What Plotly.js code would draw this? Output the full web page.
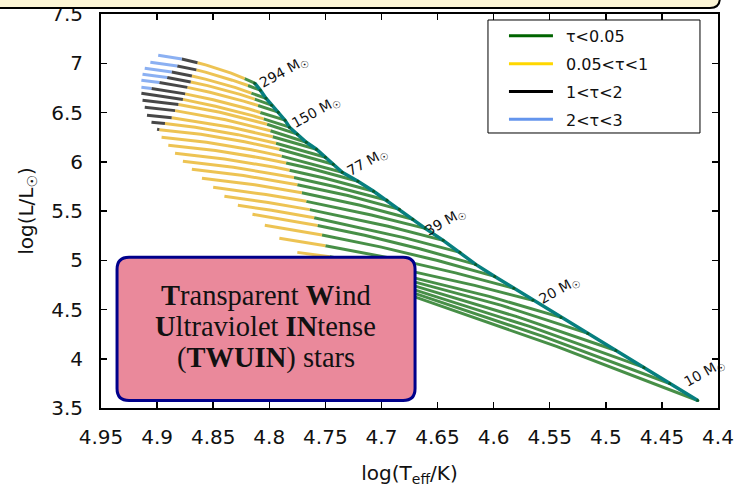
<!DOCTYPE html>
<html><head><meta charset="utf-8">
<script src="https://cdn.plot.ly/plotly-3.0.1.min.js"></script>
<style>html,body{margin:0;padding:0;background:#fff;}#chart{width:738px;height:490px;}</style>
</head><body><div id="chart"></div>
<script>
// x ticks
const xTickVals = [4.95,4.9,4.85,4.8,4.75,4.7,4.65,4.6,4.55,4.5,4.45,4.4];
const xTickText = ['4.95','4.9','4.85','4.8','4.75','4.7','4.65','4.6','4.55','4.5','4.45','4.4'];
const yTickVals = [3.5,4,4.5,5,5.5,6,6.5,7,7.5];
const yTickText = ['3.5','4','4.5','5','5.5','6','6.5','7','7.5'];

// evolutionary tracks, from the ZAMS (first point) to the end; lowest mass first
const trackLogT = [
 [4.418,4.544,4.669,4.719],
 [4.443,4.556,4.669,4.724],
 [4.466,4.568,4.669,4.728],
 [4.491,4.580,4.669,4.733],
 [4.516,4.593,4.669,4.739],
 [4.540,4.604,4.669,4.746],
 [4.565,4.617,4.669,4.746,4.775],
 [4.582,4.634,4.686,4.750,4.791],
 [4.599,4.650,4.701,4.753,4.804],
 [4.616,4.666,4.715,4.757,4.815],
 [4.630,4.680,4.760,4.798,4.828],
 [4.645,4.694,4.764,4.801,4.840],
 [4.661,4.709,4.767,4.803,4.850],
 [4.672,4.719,4.771,4.813,4.860],
 [4.684,4.730,4.775,4.823,4.869],
 [4.695,4.741,4.778,4.832,4.877],
 [4.707,4.751,4.782,4.795,4.840,4.884],
 [4.721,4.763,4.785,4.806,4.848,4.890],
 [4.735,4.775,4.789,4.816,4.856,4.896],
 [4.743,4.791,4.822,4.861,4.898,4.900],
 [4.750,4.794,4.828,4.866,4.893,4.905],
 [4.758,4.797,4.834,4.887,4.909],
 [4.767,4.799,4.839,4.884,4.911],
 [4.775,4.802,4.844,4.881,4.913],
 [4.782,4.805,4.815,4.848,4.877,4.914],
 [4.786,4.808,4.818,4.850,4.875,4.905,4.914],
 [4.792,4.810,4.823,4.853,4.873,4.898,4.914],
 [4.798,4.813,4.826,4.855,4.870,4.891,4.913],
 [4.803,4.816,4.830,4.857,4.869,4.887,4.911],
 [4.808,4.819,4.833,4.857,4.865,4.882,4.906],
 [4.813,4.822,4.834,4.856,4.864,4.878,4.899]
];
const trackLogL = [
 [3.576,4.125,4.623,4.725],
 [3.749,4.227,4.659,4.765],
 [3.912,4.328,4.694,4.816],
 [4.084,4.430,4.735,4.867],
 [4.257,4.542,4.775,4.918],
 [4.420,4.633,4.816,4.979],
 [4.593,4.745,4.877,5.036,5.080],
 [4.715,4.872,5.009,5.148,5.223],
 [4.836,4.997,5.136,5.257,5.355],
 [4.958,5.116,5.253,5.352,5.467],
 [5.080,5.230,5.431,5.507,5.558],
 [5.202,5.345,5.514,5.586,5.650],
 [5.324,5.459,5.598,5.667,5.741],
 [5.416,5.558,5.686,5.766,5.832],
 [5.517,5.657,5.767,5.860,5.924],
 [5.609,5.746,5.840,5.944,6.005],
 [5.700,5.835,5.913,5.944,6.028,6.087],
 [5.802,5.932,5.988,6.036,6.114,6.168],
 [5.893,6.020,6.057,6.122,6.198,6.249],
 [5.975,6.127,6.203,6.280,6.326,6.330],
 [6.046,6.188,6.275,6.351,6.389,6.402],
 [6.127,6.254,6.351,6.447,6.473],
 [6.198,6.315,6.427,6.519,6.554],
 [6.280,6.381,6.503,6.582,6.625],
 [6.351,6.435,6.468,6.564,6.633,6.696],
 [6.422,6.500,6.536,6.630,6.689,6.743,6.757],
 [6.503,6.571,6.615,6.706,6.755,6.804,6.828],
 [6.574,6.635,6.684,6.773,6.810,6.855,6.889],
 [6.645,6.697,6.752,6.839,6.871,6.911,6.950],
 [6.727,6.774,6.828,6.910,6.933,6.973,7.011],
 [6.798,6.843,6.900,6.981,7.005,7.043,7.082]
];
// point index where each optical-depth regime starts (-1 = never reached)
const yellowFrom = [-1,-1,-1,-1,-1,-1,3,3,3,3,2,2,2,2,2,2,2,2,2,1,1,1,1,1,1,1,1,1,1,1,1];
const blackFrom  = [-1,-1,-1,-1,-1,-1,-1,-1,-1,-1,-1,-1,-1,-1,-1,-1,-1,-1,-1,4,4,3,3,3,4,4,4,4,4,4,4];
const blueFrom   = [-1,-1,-1,-1,-1,-1,-1,-1,-1,-1,-1,-1,-1,-1,-1,-1,-1,-1,-1,-1,-1,-1,-1,-1,-1,5,5,5,5,5,5];

// ZAMS
const zamsLogT = [4.418,4.443,4.466,4.491,4.516,4.540,4.565,4.582,4.599,4.616,4.630,4.645,4.661,4.672,4.684,4.695,4.707,4.721,4.735,4.743,4.750,4.758,4.767,4.775,4.782,4.786,4.792,4.798,4.803,4.808,4.813];
const zamsLogL = [3.576,3.749,3.912,4.084,4.257,4.420,4.593,4.715,4.836,4.958,5.080,5.202,5.324,5.416,5.517,5.609,5.700,5.802,5.893,5.975,6.046,6.127,6.198,6.280,6.351,6.422,6.503,6.574,6.645,6.727,6.798];

// mass labels
const massLabels = ['10','20','39','77','150','294'];
const massLabelLogT = [4.412,4.541,4.643,4.712,4.758,4.787];
const massLabelLogL = [3.851,4.694,5.385,5.995,6.503,6.910];

const legendNames = ['τ<0.05','0.05<τ<1','1<τ<2','2<τ<3'];
const legendColors = ['#006400','#ffd700','#000000','#6495ed'];

const boxLines = ['<b>T</b>ransparent <b>W</b>ind', '<b>U</b>ltraviolet <b>IN</b>tense', '(<b>TWUIN</b>) stars'];

const SEG = ['rgba(0,100,0,0.72)','rgba(232,180,40,0.8)','rgba(0,0,0,0.72)','rgba(100,149,237,0.75)'];

const traces = [];
for (let i = 0; i < trackLogT.length; i++) {
  const T = trackLogT[i], L = trackLogL[i], n = T.length;
  const br = [[0, SEG[0]]];
  if (yellowFrom[i] >= 0) br.push([yellowFrom[i], SEG[1]]);
  if (blackFrom[i] >= 0) br.push([blackFrom[i], SEG[2]]);
  if (blueFrom[i] >= 0) br.push([blueFrom[i], SEG[3]]);
  for (let j = 0; j < br.length; j++) {
    const a = br[j][0], b = (j + 1 < br.length) ? br[j + 1][0] : n - 1;
    if (b <= a) continue;
    traces.push({x: T.slice(a, b + 1), y: L.slice(a, b + 1), mode: 'lines', type: 'scatter',
      line: {color: br[j][1], width: 3}, showlegend: false, hoverinfo: 'skip'});
  }
}
traces.push({x: zamsLogT, y: zamsLogL, mode: 'lines+markers', type: 'scatter',
  line: {color: '#077f7f', width: 3.5}, marker: {size: 3, color: '#0b5a2a'}, showlegend: false, hoverinfo: 'skip'});
for (let k = 0; k < legendNames.length; k++) {
  traces.push({x: [null], y: [null], mode: 'lines', type: 'scatter', name: '\u2002' + legendNames[k],
    line: {color: legendColors[k], width: 3}, legendgroup: 'g' + k, showlegend: true});
}

const annotations = massLabels.map((m, k) => ({
  x: massLabelLogT[k], y: massLabelLogL[k], xref: 'x', yref: 'y',
  text: m + ' M<sub>☉</sub>', showarrow: false, textangle: -29,
  font: {family: 'DejaVu Sans, sans-serif', size: 14, color: '#111'},
  xanchor: 'center', yanchor: 'middle'
}));
const boxLineY = [0.2843, 0.2056, 0.1269];
boxLines.forEach((t, k) => annotations.push({
  xref: 'paper', yref: 'paper', x: 0.2674, y: boxLineY[k], xanchor: 'center', yanchor: 'middle',
  showarrow: false, text: t,
  font: {family: 'Liberation Serif, serif', size: 28.5, color: '#111'}
}));

const shapes = [
  {type: 'path', xref: 'paper', yref: 'paper', layer: 'above',
   path: 'M-0.2,1.12 L1.003,1.12 L1.003,1.04 Q1.003,1.0152 0.987,1.0152 L-0.2,1.0152 Z',
   fillcolor: '#fdf6d6', line: {color: '#000', width: 2}},
  {type: 'path', xref: 'paper', yref: 'paper', layer: 'above',
   path: 'M0.0454,0.019 L0.4896,0.019 Q0.509,0.019 0.509,0.0495 L0.509,0.352 Q0.509,0.3825 0.4896,0.3825 L0.0454,0.3825 Q0.026,0.3825 0.026,0.352 L0.026,0.0495 Q0.026,0.019 0.0454,0.019 Z',
   fillcolor: '#ea899b', line: {color: '#00008b', width: 3}},
  {type: 'rect', xref: 'paper', yref: 'paper', layer: 'above',
   x0: 0.6272, x1: 0.9708, y0: 0.698, y1: 0.9848, fillcolor: '#fff', line: {color: '#000', width: 1}}
];

const axisCommon = {showline: true, linecolor: '#000', linewidth: 2, mirror: 'ticks', ticks: 'inside',
  ticklen: 6, tickwidth: 1.5, tickcolor: '#000', showgrid: false, zeroline: false,
  tickfont: {family: 'DejaVu Sans, sans-serif', size: 20, color: '#111'}};

const layout = {
  width: 738, height: 490,
  margin: {l: 101, r: 20, t: 14, b: 82},
  paper_bgcolor: '#fff', plot_bgcolor: '#fff',
  font: {family: 'DejaVu Sans, sans-serif', size: 20, color: '#111'},
  xaxis: Object.assign({}, axisCommon, {range: [4.95, 4.4], tickmode: 'array', tickvals: xTickVals, ticktext: xTickText,
    ticklabelstandoff: 10, title: {text: 'log(T<sub>eff</sub>/K)', font: {size: 20}, standoff: 18}}),
  yaxis: Object.assign({}, axisCommon, {range: [3.5, 7.5], tickmode: 'array', tickvals: yTickVals, ticktext: yTickText,
    ticklabelstandoff: 12, title: {text: 'log(L/L<sub>☉</sub>)', font: {size: 20}, standoff: 12}}),
  legend: {x: 0.6531, y: 0.9874, xanchor: 'left', yanchor: 'top', bgcolor: 'rgba(0,0,0,0)', borderwidth: 0,
    font: {family: 'DejaVu Sans, sans-serif', size: 16, color: '#111'}, itemwidth: 44,
    traceorder: 'grouped', tracegroupgap: 4},
  annotations: annotations,
  shapes: shapes
};

Plotly.newPlot('chart', traces, layout, {staticPlot: true, displayModeBar: false});
</script></body></html>
